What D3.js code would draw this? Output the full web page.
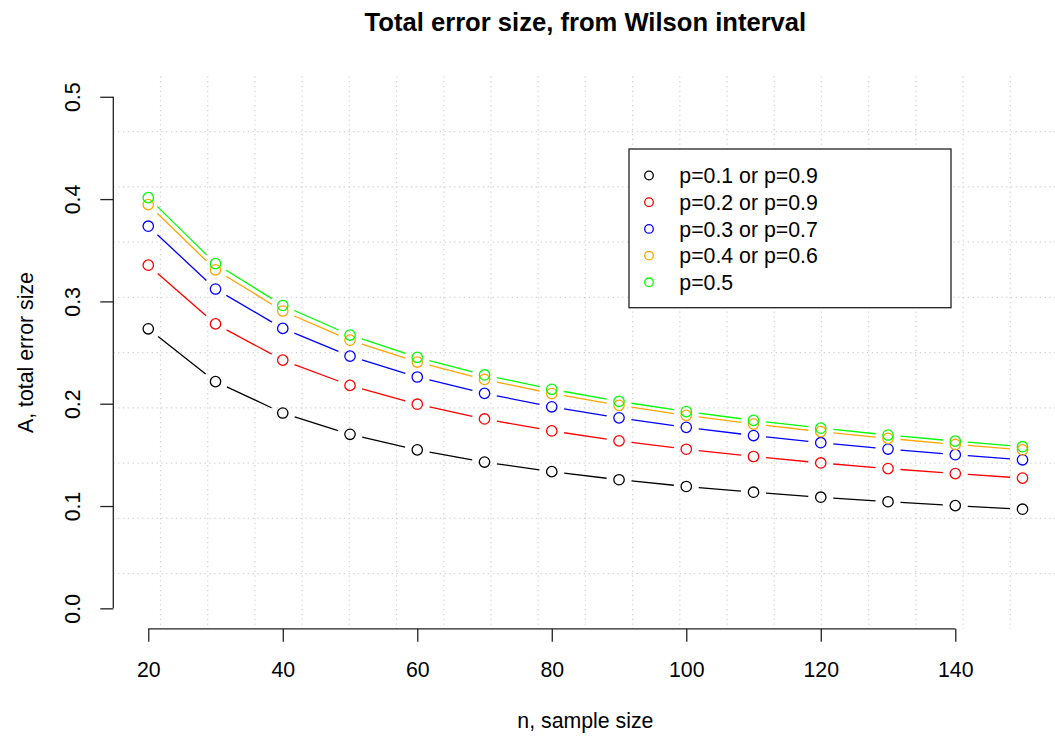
<!DOCTYPE html>
<html>
<head>
<meta charset="utf-8">
<script src="https://d3js.org/d3.v7.min.js"></script>
<style>
  body { margin: 0; background: #fff; }
  svg text { font-family: "Liberation Sans", Arial, Helvetica, sans-serif; fill: #000; }
</style>
</head>
<body>
<div id="chart"></div>
<script>
  const W = 1055, H = 740

  // sample sizes on the x axis
  const sampleSizes = [20, 30, 40, 50, 60, 70, 80, 90, 100, 110, 120, 130, 140, 150]

  // total error size, one array per p
  const errP1 = [0.2732, 0.2216, 0.1909, 0.1701, 0.1549, 0.1430, 0.1336, 0.1257, 0.1191, 0.1135, 0.1086, 0.1042, 0.1004, 0.0969]
  const errP2 = [0.3354, 0.2780, 0.2426, 0.2179, 0.1995, 0.1851, 0.1734, 0.1637, 0.1555, 0.1484, 0.1421, 0.1366, 0.1317, 0.1273]
  const errP3 = [0.3735, 0.3121, 0.2736, 0.2465, 0.2261, 0.2101, 0.1970, 0.1862, 0.1769, 0.1689, 0.1619, 0.1557, 0.1502, 0.1452]
  const errP4 = [0.3946, 0.3309, 0.2906, 0.2621, 0.2407, 0.2237, 0.2099, 0.1984, 0.1886, 0.1801, 0.1727, 0.1661, 0.1602, 0.1549]
  const errP5 = [0.4014, 0.3369, 0.2960, 0.2671, 0.2453, 0.2281, 0.2141, 0.2023, 0.1923, 0.1837, 0.1761, 0.1694, 0.1634, 0.1580]

  const seriesLabels = ["p=0.1 or p=0.9", "p=0.2 or p=0.9", "p=0.3 or p=0.7", "p=0.4 or p=0.6", "p=0.5"]
  const seriesColors = ["#000000", "#ff0000", "#0000ff", "#ffa500", "#00ff00"]
  const seriesValues = [errP1, errP2, errP3, errP4, errP5]

  const xTicks = [20, 40, 60, 80, 100, 120, 140]
  const yTicks = [0.0, 0.1, 0.2, 0.3, 0.4, 0.5]

  const xDomain = [14.8, 155.2]
  const yDomain = [-0.02, 0.52]

  const x = d3.scaleLinear().domain(xDomain).range([113.3, 1057.5])
  const y = d3.scaleLinear().domain(yDomain).range([628.8, 76.3])

  const svg = d3.select("#chart").append("svg")
    .attr("width", W).attr("height", H)
    .attr("viewBox", [0, 0, W, H])

  // dotted grid, like grid(20, 10)
  const gx = d3.range(1, 20).map(i => xDomain[0] + i * (xDomain[1] - xDomain[0]) / 20)
  const gy = d3.range(1, 10).map(i => yDomain[0] + i * (yDomain[1] - yDomain[0]) / 10)
  const grid = svg.append("g")
    .attr("stroke", "#d3d3d3").attr("stroke-width", 1.2)
    .attr("stroke-dasharray", "1.3,3.5")
  grid.selectAll("line.v").data(gx).enter().append("line")
    .attr("x1", d => x(d)).attr("x2", d => x(d))
    .attr("y1", y.range()[1]).attr("y2", y.range()[0])
  grid.selectAll("line.h").data(gy).enter().append("line")
    .attr("y1", d => y(d)).attr("y2", d => y(d))
    .attr("x1", x.range()[0]).attr("x2", x.range()[1])

  // axes
  const xAxis = g => g
    .attr("transform", `translate(0, ${y.range()[0]})`)
    .call(d3.axisBottom(x).tickValues(xTicks).tickSize(13).tickPadding(10).tickFormat(d3.format("d")))
  const yAxis = g => g
    .attr("transform", `translate(${x.range()[0]}, 0)`)
    .call(d3.axisLeft(y).tickValues(yTicks).tickSize(13).tickFormat(d3.format(".1f")))

  const gX = svg.append("g").call(xAxis)
  const gY = svg.append("g").call(yAxis)

  ;[gX, gY].forEach(g => {
    g.select(".domain").remove()
    g.selectAll(".tick line").attr("stroke", "#222").attr("stroke-width", 1.3)
    g.selectAll(".tick text").attr("font-size", "21.3px").attr("fill", "#000")
  })
  gX.selectAll(".tick text").attr("dy", null).attr("y", 48.5)
  gY.selectAll(".tick text")
    .attr("x", null).attr("dy", null)
    .attr("text-anchor", "middle")
    .attr("transform", "translate(-33, 0) rotate(-90)")

  gX.append("line")
    .attr("x1", x(xTicks[0])).attr("x2", x(xTicks[xTicks.length - 1]))
    .attr("stroke", "#222").attr("stroke-width", 1.3)
  gY.append("line")
    .attr("y1", y(yTicks[0])).attr("y2", y(yTicks[yTicks.length - 1]))
    .attr("stroke", "#222").attr("stroke-width", 1.3)

  // titles
  const midX = (x.range()[0] + x.range()[1]) / 2
  svg.append("text")
    .attr("x", midX).attr("y", 31)
    .attr("text-anchor", "middle")
    .attr("font-size", "25.6px").attr("font-weight", "bold")
    .text("Total error size, from Wilson interval")
  svg.append("text")
    .attr("x", midX).attr("y", 728)
    .attr("text-anchor", "middle")
    .attr("font-size", "21.3px")
    .text("n, sample size")
  svg.append("text")
    .attr("transform", `translate(32.5, ${(y.range()[0] + y.range()[1]) / 2}) rotate(-90)`)
    .attr("text-anchor", "middle")
    .attr("font-size", "21.3px")
    .text("A, total error size")

  // series: type "b" -> points plus lines with gaps
  const gap = 12.5
  seriesValues.forEach((vals, si) => {
    const color = seriesColors[si]
    const pts = sampleSizes.map((n, i) => [x(n), y(vals[i])])
    const g = svg.append("g")

    const segs = d3.pairs(pts).map(([a, b]) => {
      const dx = b[0] - a[0], dy = b[1] - a[1]
      const len = Math.sqrt(dx * dx + dy * dy)
      const ux = dx / len, uy = dy / len
      return [a[0] + ux * gap, a[1] + uy * gap, b[0] - ux * gap, b[1] - uy * gap]
    })
    g.selectAll("line").data(segs).enter().append("line")
      .attr("x1", d => d[0]).attr("y1", d => d[1])
      .attr("x2", d => d[2]).attr("y2", d => d[3])
      .attr("stroke", color).attr("stroke-width", 1.3)

    g.selectAll("circle").data(vals).enter().append("circle")
      .attr("cx", (d, i) => x(sampleSizes[i]))
      .attr("cy", d => y(d))
      .attr("r", 5.2)
      .attr("fill", "none")
      .attr("stroke", color).attr("stroke-width", 1.3)
  })

  // legend
  const legend = svg.append("g")
  legend.append("rect")
    .attr("x", 629).attr("y", 149).attr("width", 322).attr("height", 158.7)
    .attr("fill", "#fff").attr("stroke", "#222").attr("stroke-width", 1.3)
  const rows = legend.selectAll("g.row").data(seriesLabels).enter().append("g")
    .attr("transform", (d, i) => `translate(0, ${175.5 + i * 26.7})`)
  rows.append("circle")
    .attr("cx", 649).attr("cy", 0).attr("r", 4.3)
    .attr("fill", "none").attr("stroke", (d, i) => seriesColors[i]).attr("stroke-width", 1.3)
  rows.append("text")
    .attr("x", 679.3).attr("dy", "0.36em")
    .attr("font-size", "21.3px")
    .text(d => d)
</script>
</body>
</html>
